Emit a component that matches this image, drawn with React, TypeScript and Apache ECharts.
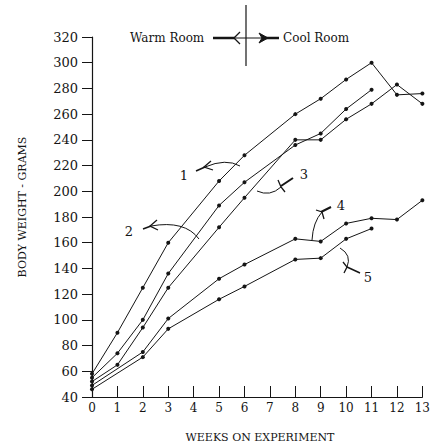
import React, { useEffect, useRef } from "react";
import * as echarts from "echarts";

const weekTicks = [0, 1, 2, 3, 4, 5, 6, 7, 8, 9, 10, 11, 12, 13];

const weeks1 = [0, 1, 2, 3, 5, 6, 8, 9, 10, 11, 12, 13];
const line1 = [58, 90, 125, 160, 208, 228, 260, 272, 287, 300, 275, 276];

const weeks2 = [0, 1, 2, 3, 5, 6, 8, 9, 10, 11];
const line2 = [55, 74, 100, 136, 189, 207, 236, 245, 264, 279];

const weeks3 = [0, 1, 2, 3, 5, 6, 8, 9, 10, 11, 12, 13];
const line3 = [52, 65, 94, 125, 172, 195, 240, 240, 256, 268, 283, 268];

const weeks4 = [0, 2, 3, 5, 6, 8, 9, 10, 11, 12, 13];
const line4 = [49, 75, 101, 132, 143, 163, 161, 175, 179, 178, 193];

const weeks5 = [0, 2, 3, 5, 6, 8, 9, 10, 11];
const line5 = [46, 71, 93, 116, 126, 147, 148, 163, 171];

const lineNames = ["1", "2", "3", "4", "5"];
const FONT = "DejaVu Serif";
const INK = "#151515";

function pairs(ws: number[], vs: number[]) {
  return ws.map((w, i) => [w, vs[i]]);
}

function chevron(tx: number, ty: number, a1: [number, number], a2: [number, number]) {
  return {
    type: "polyline",
    shape: { points: [a1, [tx, ty], a2] },
    style: { stroke: INK, lineWidth: 1.3, fill: null },
  };
}

export default function App() {
  const ref = useRef<HTMLDivElement>(null);
  useEffect(() => {
    if (!ref.current) return;
    const chart = echarts.init(ref.current, null, { renderer: "svg" });
    const series = [
      pairs(weeks1, line1),
      pairs(weeks2, line2),
      pairs(weeks3, line3),
      pairs(weeks4, line4),
      pairs(weeks5, line5),
    ].map((d, i) => ({
      name: lineNames[i],
      type: "line",
      data: d,
      symbol: "circle",
      symbolSize: 4,
      itemStyle: { color: INK },
      lineStyle: { color: INK, width: 1 },
    }));
    const thin = { stroke: INK, lineWidth: 1, fill: null };
    chart.setOption({
      animation: false,
      backgroundColor: "#ffffff",
      grid: { left: 92, right: 5, top: 37, bottom: 51 },
      xAxis: {
        type: "value",
        min: 0,
        max: 13,
        interval: 1,
        axisLine: { lineStyle: { color: INK, width: 1.2 } },
        axisTick: { inside: true, length: 11, lineStyle: { color: INK } },
        axisLabel: {
          color: INK,
          fontFamily: FONT,
          fontSize: 12,
          margin: 5,
          formatter: (v: number) => (weekTicks.includes(v) ? String(v) : ""),
        },
        splitLine: { show: false },
      },
      yAxis: {
        type: "value",
        min: 40,
        max: 320,
        interval: 20,
        axisLine: { show: true, lineStyle: { color: INK, width: 1.2 } },
        axisTick: { show: true, length: 10, lineStyle: { color: INK } },
        axisLabel: { color: INK, fontFamily: FONT, fontSize: 13, margin: 14 },
        splitLine: { show: false },
      },
      series,
      graphic: [
        {
          type: "text",
          x: 22,
          y: 207,
          rotation: Math.PI / 2,
          style: {
            text: "BODY WEIGHT - GRAMS",
            font: `11px '${FONT}'`,
            fill: INK,
            align: "center",
            verticalAlign: "middle",
          },
        },
        {
          type: "text",
          x: 260,
          y: 437,
          style: {
            text: "WEEKS ON EXPERIMENT",
            font: `11px '${FONT}'`,
            fill: INK,
            align: "center",
            verticalAlign: "middle",
          },
        },
        // legend: warm / cool room
        {
          type: "text",
          x: 130,
          y: 38,
          style: { text: "Warm Room", font: `12px '${FONT}'`, fill: INK, verticalAlign: "middle" },
        },
        {
          type: "text",
          x: 283,
          y: 38,
          style: { text: "Cool Room", font: `12px '${FONT}'`, fill: INK, verticalAlign: "middle" },
        },
        { type: "line", shape: { x1: 246, y1: 5, x2: 246, y2: 66 }, style: { stroke: INK, lineWidth: 1.2 } },
        { type: "line", shape: { x1: 213, y1: 38, x2: 235, y2: 38 }, style: { stroke: INK, lineWidth: 2.5 } },
        { type: "line", shape: { x1: 235, y1: 38, x2: 262, y2: 38 }, style: { stroke: INK, lineWidth: 1 } },
        chevron(234, 38, [240, 32], [240, 44]),
        {
          type: "polygon",
          shape: { points: [[259, 33], [268, 38], [259, 43], [262, 38]] },
          style: { fill: INK, stroke: INK, lineWidth: 1 },
        },
        { type: "line", shape: { x1: 266, y1: 38, x2: 279, y2: 38 }, style: { stroke: INK, lineWidth: 2.5 } },
        // label 1
        { type: "text", x: 184, y: 175, style: { text: "1", font: `13px '${FONT}'`, fill: INK, align: "center", verticalAlign: "middle" } },
        { type: "line", shape: { x1: 196, y1: 171, x2: 205, y2: 167 }, style: { stroke: INK, lineWidth: 1.5 } },
        chevron(204, 167, [211, 161], [213, 170]),
        { type: "bezierCurve", shape: { x1: 205, y1: 167, cpx1: 226, cpy1: 158, x2: 240, y2: 166 }, style: thin },
        // label 2
        { type: "text", x: 129, y: 231, style: { text: "2", font: `13px '${FONT}'`, fill: INK, align: "center", verticalAlign: "middle" } },
        { type: "line", shape: { x1: 143, y1: 229, x2: 151, y2: 226 }, style: { stroke: INK, lineWidth: 1.5 } },
        chevron(150, 226, [157, 220], [158, 230]),
        { type: "bezierCurve", shape: { x1: 151, y1: 226, cpx1: 185, cpy1: 220, x2: 199, y2: 239 }, style: thin },
        // label 3
        { type: "text", x: 304, y: 174, style: { text: "3", font: `13px '${FONT}'`, fill: INK, align: "center", verticalAlign: "middle" } },
        { type: "bezierCurve", shape: { x1: 257, y1: 191, cpx1: 270, cpy1: 197, x2: 281, y2: 187 }, style: thin },
        chevron(281, 187, [278, 180], [285, 192]),
        { type: "line", shape: { x1: 281, y1: 186, x2: 293, y2: 178 }, style: { stroke: INK, lineWidth: 2 } },
        // label 4
        { type: "text", x: 341, y: 205, style: { text: "4", font: `13px '${FONT}'`, fill: INK, align: "center", verticalAlign: "middle" } },
        { type: "bezierCurve", shape: { x1: 312, y1: 240, cpx1: 313, cpy1: 222, x2: 322, y2: 212 }, style: thin },
        chevron(322, 212, [316, 210], [324, 219]),
        { type: "line", shape: { x1: 321, y1: 212, x2: 331, y2: 207 }, style: { stroke: INK, lineWidth: 2 } },
        // label 5
        { type: "text", x: 368, y: 277, style: { text: "5", font: `13px '${FONT}'`, fill: INK, align: "center", verticalAlign: "middle" } },
        { type: "bezierCurve", shape: { x1: 340, y1: 248, cpx1: 352, cpy1: 255, x2: 347, y2: 267 }, style: thin },
        chevron(347, 267, [343, 262], [344, 273]),
        { type: "line", shape: { x1: 347, y1: 267, x2: 360, y2: 273 }, style: { stroke: INK, lineWidth: 1.5 } },
      ],
    });
    return () => chart.dispose();
  }, []);
  return (
    <div
      ref={ref}
      style={{ position: "fixed", left: 0, top: 0, width: 433, height: 448, background: "#fff" }}
    />
  );
}
